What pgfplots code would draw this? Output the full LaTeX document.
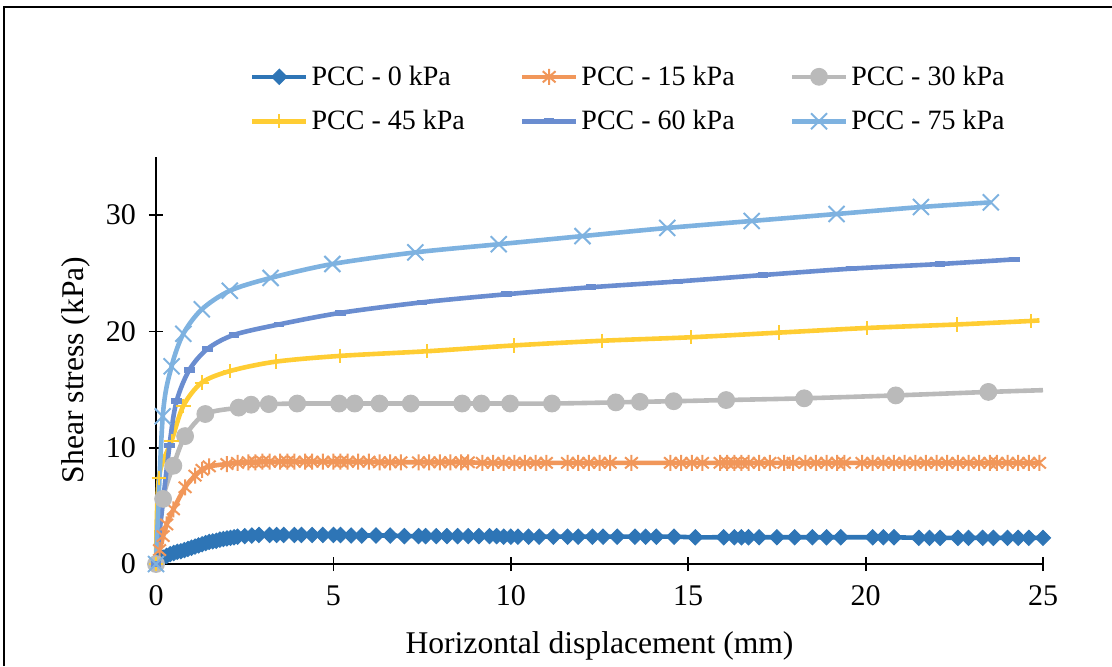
\documentclass[border=0pt]{standalone}
\usepackage{fontspec}
\setmainfont{Liberation Serif}
\usepackage{pgfplots}
\pgfplotsset{compat=1.18}
\definecolor{cA}{HTML}{2E75B6}
\definecolor{cB}{HTML}{F1975A}
\definecolor{cC}{HTML}{BABABA}
\definecolor{cD}{HTML}{FFCD33}
\definecolor{cE}{HTML}{6A8DD0}
\definecolor{cF}{HTML}{7EB2E0}
\pgfdeclareplotmark{sqdiamond}{%
  \pgfpathmoveto{\pgfqpoint{0pt}{\pgfplotmarksize}}%
  \pgfpathlineto{\pgfqpoint{\pgfplotmarksize}{0pt}}%
  \pgfpathlineto{\pgfqpoint{0pt}{-\pgfplotmarksize}}%
  \pgfpathlineto{\pgfqpoint{-\pgfplotmarksize}{0pt}}%
  \pgfpathclose\pgfusepathqfillstroke}
\pgfdeclareplotmark{xstar}{%
  \pgfpathmoveto{\pgfqpoint{0pt}{\pgfplotmarksize}}%
  \pgfpathlineto{\pgfqpoint{0pt}{-\pgfplotmarksize}}%
  \pgfpathmoveto{\pgfqpoint{-.8\pgfplotmarksize}{-.7\pgfplotmarksize}}%
  \pgfpathlineto{\pgfqpoint{.8\pgfplotmarksize}{.7\pgfplotmarksize}}%
  \pgfpathmoveto{\pgfqpoint{-.8\pgfplotmarksize}{.7\pgfplotmarksize}}%
  \pgfpathlineto{\pgfqpoint{.8\pgfplotmarksize}{-.7\pgfplotmarksize}}%
  \pgfusepathqstroke}
\pgfdeclareplotmark{bigx}{%
  \pgfpathmoveto{\pgfqpoint{-\pgfplotmarksize}{-\pgfplotmarksize}}%
  \pgfpathlineto{\pgfqpoint{\pgfplotmarksize}{\pgfplotmarksize}}%
  \pgfpathmoveto{\pgfqpoint{-\pgfplotmarksize}{\pgfplotmarksize}}%
  \pgfpathlineto{\pgfqpoint{\pgfplotmarksize}{-\pgfplotmarksize}}%
  \pgfusepathqstroke}
\pgfdeclareplotmark{hdash}{%
  \pgfpathmoveto{\pgfqpoint{-\pgfplotmarksize}{0pt}}%
  \pgfpathlineto{\pgfqpoint{\pgfplotmarksize}{0pt}}%
  \pgfusepathqstroke}
\begin{document}
\begin{tikzpicture}
\path[use as bounding box] (0pt,0pt) rectangle (556pt,-333pt);
\draw[line width=1pt] (2pt,-333pt) -- (2pt,-3.5pt) -- (556pt,-3.5pt);
\begin{axis}[
  at={(78pt,-282pt)}, anchor=south west,
  scale only axis, width=443.5pt, height=203.5pt,
  xmin=0, xmax=25, ymin=0, ymax=35,
  axis x line*=bottom, axis y line*=left,
  axis line style={line width=0.9pt, black, -},
  every tick/.style={line width=0.9pt, black},
  tick align=center, major tick length=7pt,
  xtick={0,5,10,15,20,25}, ytick={0,10,20,30},
  minor tick num=0,
  /pgf/number format/assume math mode=true,
  tick label style={font=\fontsize{15}{18}\selectfont},
  xticklabel style={anchor=base, yshift=-17pt},
  yticklabel style={anchor=east, xshift=-3pt},
  xlabel={Horizontal displacement (mm)},
  ylabel={Shear stress (kPa)},
  label style={font=\fontsize{15.8}{18}\selectfont},
  xlabel style={at={(axis description cs:0.5,-0.2187)}, anchor=base},
  ylabel style={at={(axis description cs:-0.082,0.477)}, anchor=base},
  clip=false,
  legend columns=3,
  legend cell align=left,
  legend style={draw=none, fill=none, at={(axis description cs:0.106,1.1425)}, anchor=west,
    font=\fontsize{14}{16}\selectfont, inner sep=0pt, outer sep=0pt, row sep=8pt,
    /tikz/every even column/.append style={column sep=26pt},
    nodes={inner sep=1.5pt}},
  every axis plot/.append style={line width=2.3pt, smooth,
    legend image code/.code={\draw[mark repeat=2,mark phase=2] plot coordinates {(0pt,0pt) (13.5pt,0pt) (27pt,0pt)};}},
]
% PCC - 0 kPa
\addplot[cA, mark=sqdiamond, mark size=3.8pt, mark options={fill=cA, draw=cA, line width=0.5pt}] coordinates {
(0,0) (0.05,0.2) (0.1,0.35) (0.15,0.45) (0.2,0.55) (0.3,0.7) (0.4,0.85) (0.5,0.95) (0.6,1.05) (0.7,1.1)
(0.8,1.2) (0.9,1.3) (1.0,1.4) (1.1,1.5) (1.2,1.6) (1.3,1.7) (1.4,1.8) (1.5,1.9) (1.6,1.95) (1.7,2.0)
(1.8,2.1) (1.9,2.15) (2.0,2.2) (2.1,2.25) (2.2,2.3) (2.3,2.35) (2.5,2.4) (2.7,2.45) (2.9,2.5) (3.2,2.5)
(3.4,2.5) (3.6,2.5) (3.9,2.5) (4.1,2.5) (4.4,2.5) (4.7,2.5) (5.0,2.5) (5.2,2.5) (5.5,2.45) (5.8,2.45)
(6.2,2.45) (6.6,2.45) (7.0,2.4) (7.4,2.4) (7.6,2.4) (7.9,2.4) (8.2,2.4) (8.5,2.4) (8.8,2.4) (9.1,2.4)
(9.4,2.4) (9.6,2.4) (9.8,2.35) (10.0,2.35) (10.2,2.35) (10.5,2.35) (10.8,2.35) (11.2,2.35) (11.6,2.35) (11.9,2.35)
(12.3,2.35) (12.6,2.35) (13.0,2.35) (13.5,2.35) (13.8,2.35) (14.1,2.35) (14.6,2.35) (15.2,2.3) (16.0,2.3) (16.3,2.3)
(16.5,2.3) (16.7,2.3) (17.0,2.3) (17.5,2.3) (18.0,2.3) (18.5,2.3) (18.9,2.3) (19.3,2.3) (20.2,2.3) (20.5,2.3)
(20.8,2.3) (21.5,2.25) (21.8,2.25) (22.1,2.25) (22.6,2.25) (22.9,2.25) (23.3,2.25) (23.6,2.25) (24.0,2.25) (24.3,2.25)
(24.6,2.25) (25.0,2.25)
};
\addlegendentry{PCC - 0 kPa}
% PCC - 15 kPa
\addplot[cB, mark=xstar, mark size=4pt, mark options={line width=1pt}] coordinates {
(0,0) (0.1,1.2) (0.2,2.4) (0.3,3.4) (0.49,4.7) (0.82,6.6) (1.1,7.6) (1.3,8.1) (1.5,8.4) (2.0,8.6)
(2.3,8.7) (2.6,8.75) (2.8,8.75) (3.0,8.8) (3.2,8.8) (3.5,8.8) (3.7,8.8) (3.9,8.8) (4.2,8.8) (4.4,8.8)
(4.7,8.8) (5.0,8.8) (5.2,8.8) (5.4,8.8) (5.7,8.8) (6.0,8.8) (6.3,8.75) (6.6,8.75) (6.9,8.75) (7.4,8.75)
(7.7,8.75) (8.0,8.75) (8.3,8.75) (8.6,8.75) (8.8,8.75) (9.2,8.7) (9.5,8.7) (9.8,8.7) (10.1,8.7) (10.4,8.7)
(10.7,8.7) (11.0,8.7) (11.6,8.7) (11.9,8.7) (12.2,8.7) (12.5,8.7) (12.8,8.7) (13.4,8.7) (14.5,8.7) (14.8,8.7)
(15.1,8.7) (15.4,8.7) (15.9,8.7) (16.1,8.7) (16.3,8.7) (16.5,8.7) (16.7,8.7) (17.0,8.7) (17.3,8.7) (17.7,8.7)
(17.96,8.7) (18.3,8.7) (18.6,8.7) (18.9,8.7) (19.2,8.7) (19.4,8.7) (19.9,8.7) (20.2,8.7) (20.5,8.7) (20.8,8.7)
(21.1,8.7) (21.4,8.7) (21.7,8.7) (22.0,8.7) (22.3,8.7) (22.6,8.7) (22.9,8.7) (23.2,8.7) (23.5,8.7) (23.7,8.7)
(24.0,8.7) (24.3,8.7) (24.6,8.7) (24.9,8.7)
};
\addlegendentry{PCC - 15 kPa}
% PCC - 30 kPa
\addplot[cC, mark=*, mark size=4.2pt, mark options={fill=cC, draw=cC, line width=0.5pt}] coordinates {
(0,0) (0.2,5.6) (0.49,8.45) (0.82,11.0) (1.39,12.9) (2.33,13.45) (2.68,13.7) (3.18,13.75) (3.98,13.8) (5.16,13.8)
(5.6,13.8) (6.3,13.8) (7.18,13.8) (8.63,13.8) (9.17,13.8) (9.98,13.8) (11.16,13.8) (12.96,13.9) (13.64,13.95) (14.59,14.0)
(16.07,14.1) (18.27,14.25) (20.85,14.5) (23.46,14.8)
};
\addlegendentry{PCC - 30 kPa}
\addplot[cC, no marks, forget plot] coordinates {(23.46,14.8) (25,14.95)};
% PCC - 45 kPa
\addplot[cD, mark=+, mark size=3.6pt, mark options={line width=1pt}] coordinates {
(0,0) (0.08,7.4) (0.44,10.6) (0.77,13.6) (1.29,15.6) (2.09,16.6) (3.37,17.4) (5.2,17.9) (7.65,18.3) (10.1,18.8)
(12.57,19.2) (15.08,19.5) (17.56,19.9) (20.05,20.3) (22.57,20.6) (24.65,20.9)
};
\addlegendentry{PCC - 45 kPa}
\addplot[cD, no marks, forget plot] coordinates {(24.65,20.9) (24.9,20.95)};
% PCC - 60 kPa
\addplot[cE, mark=hdash, mark size=2.6pt, mark options={line width=2.8pt}] coordinates {
(0,0) (0.38,10.2) (0.58,14.0) (0.94,16.7) (1.45,18.5) (2.19,19.7) (3.46,20.6) (5.2,21.6) (7.49,22.5) (9.88,23.2)
(12.26,23.8) (14.71,24.3) (17.1,24.85) (19.6,25.4) (22.1,25.8) (24.2,26.2)
};
\addlegendentry{PCC - 60 kPa}
% PCC - 75 kPa
\addplot[cF, mark=bigx, mark size=4pt, mark options={line width=1pt}] coordinates {
(0,0) (0.19,12.7) (0.44,17.0) (0.77,19.8) (1.29,21.9) (2.08,23.5) (3.23,24.6) (4.97,25.8) (7.31,26.8) (9.66,27.5)
(12.02,28.2) (14.41,28.9) (16.79,29.5) (19.18,30.1) (21.56,30.7) (23.53,31.1)
};
\addlegendentry{PCC - 75 kPa}
\end{axis}
\end{tikzpicture}
\end{document}
